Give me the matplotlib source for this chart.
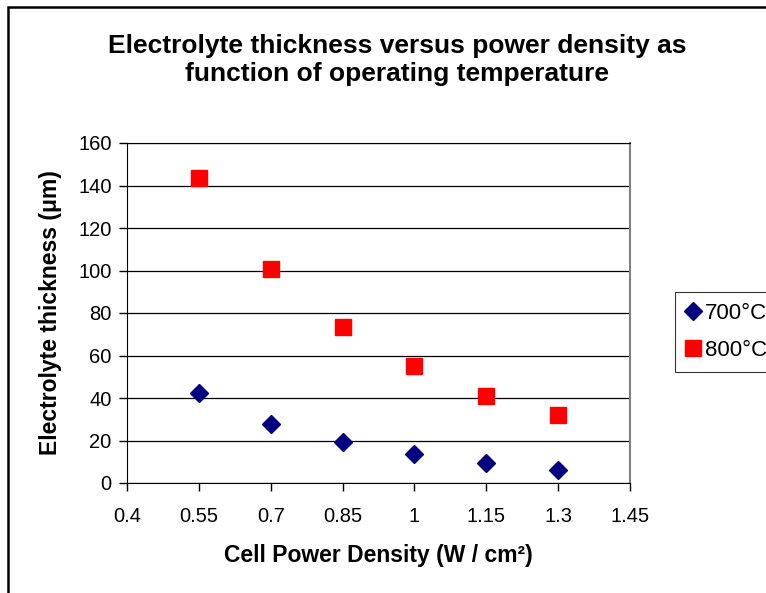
import matplotlib.pyplot as plt
from matplotlib.patches import Rectangle

plt.rcParams['font.family'] = ['Liberation Sans', 'DejaVu Sans']

power_density = [0.55, 0.7, 0.85, 1.0, 1.15, 1.3]
thick_700 = [42.5, 28, 19.5, 13.5, 9.3, 6]
thick_800 = [143.5, 100.5, 73.5, 55, 41, 32]
series_labels = ['700°C', '800°C']

x_ticks = [0.4, 0.55, 0.7, 0.85, 1, 1.15, 1.3, 1.45]
x_tick_labels = ['0.4', '0.55', '0.7', '0.85', '1', '1.15', '1.3', '1.45']
y_ticks = list(range(0, 161, 20))

fig = plt.figure(figsize=(7.66, 5.93), dpi=100)
ax = fig.add_axes([127 / 766, 1 - 483 / 593, 503 / 766, 340 / 593])

# chart border (cropped excel chart, only left and top edges visible)
fig.patches.append(Rectangle((8 / 766, -0.1), 1.2, 1 - 7 / 593 + 0.1,
                             transform=fig.transFigure, fill=False,
                             edgecolor='black', linewidth=1.8))

ax.plot(power_density, thick_700, linestyle='none', marker='D', markersize=9.5,
        color='#000080', label=series_labels[0], zorder=3)
ax.plot(power_density, thick_800, linestyle='none', marker='s', markersize=12,
        color='#FF0000', label=series_labels[1], zorder=3)

ax.set_xlim(0.4, 1.45)
ax.set_ylim(0, 160)
ax.set_xticks(x_ticks)
ax.set_xticklabels(x_tick_labels)
ax.set_yticks(y_ticks)
ax.tick_params(labelsize=14.5, direction='out', length=6, width=1)
ax.tick_params(axis='x', pad=11)
ax.tick_params(axis='y', pad=5)
ax.grid(axis='y', color='black', linewidth=0.9)
ax.set_axisbelow(True)

for side in ['left', 'bottom', 'top']:
    ax.spines[side].set_color('black')
ax.spines['right'].set_color('#808080')
ax.spines['right'].set_linewidth(1.5)

ax.set_xlabel('Cell Power Density (W / cm²)', fontsize=16.5, fontweight='bold', labelpad=13)
ax.set_ylabel('Electrolyte thickness (μm)', fontsize=16.5, fontweight='bold', labelpad=12)

fig.text(397 / 766, 1 - 60 / 593,
         'Electrolyte thickness versus power density as\nfunction of operating temperature',
         ha='center', va='center', fontsize=19, fontweight='bold', linespacing=1.22)

leg = fig.legend(loc='upper left', bbox_to_anchor=(675 / 766, 1 - 292 / 593),
                 fontsize=16, frameon=True, fancybox=False, edgecolor='black',
                 handletextpad=0.25, handlelength=0.6, borderpad=0.5, labelspacing=0.7,
                 borderaxespad=0)
leg.get_frame().set_linewidth(0.8)

fig.savefig('out.png', dpi=100)
